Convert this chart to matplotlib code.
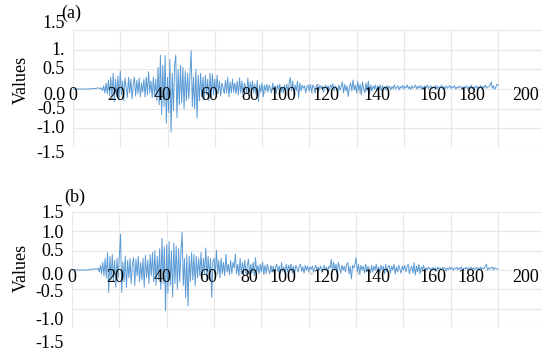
import numpy as np
import matplotlib
matplotlib.use('Agg')
import matplotlib.pyplot as plt

plt.rcParams['font.family'] = ['Liberation Serif', 'DejaVu Serif']

# one row = 10 s, step 0.5 s
wave_a = [
    0.0, 0.0, 0.0, 0.0, 0.0, 0.0, 0.0, 0.0, 0.0, 0.0, 0.0, 0.0, 0.0, 0.0, 0.01, 0.0, 0.01, 0.01, 0.02, 0.01,
    0.02, 0.03, 0.02, 0.01, 0.03, -0.04, 0.08, -0.1, 0.15, -0.12, 0.22, -0.18, 0.3, -0.25, 0.4, -0.32, 0.25, -0.2, 0.33, -0.28,
    0.46, -0.15, 0.2, -0.3, 0.28, 0.05, -0.22, 0.3, -0.1, 0.25, -0.25, 0.12, 0.3, -0.18, 0.22, -0.12, 0.28, -0.2, 0.15, -0.08,
    0.25, -0.2, 0.3, -0.15, 0.44, -0.1, 0.2, -0.22, 0.3, -0.18, 0.25, -0.3, 0.55, -0.4, 0.86, -0.65, 0.6, -0.45, 0.85, -0.87,
    0.3, -0.6, 0.75, -1.1, 0.4, -0.55, 0.6, 0.86, -0.73, 0.5, -0.4, 0.6, -0.35, 0.55, -0.5, 0.45, -0.3, 0.4, -0.25, 0.35,
    0.97, -0.45, 0.3, -0.5, 0.5, -0.74, 0.35, -0.3, 0.4, -0.2, 0.3, -0.28, 0.35, -0.15, 0.25, -0.3, 0.4, -0.2, 0.38, -0.15,
    0.25, -0.15, 0.35, -0.1, 0.2, -0.18, 0.15, 0.05, -0.12, 0.22, -0.1, 0.3, -0.2, 0.18, -0.1, 0.25, -0.08, 0.15, -0.12, 0.2,
    -0.15, 0.28, -0.1, 0.2, -0.2, 0.15, 0.05, -0.1, 0.28, -0.12, 0.18, -0.05, 0.2, -0.1, 0.12, -0.15, 0.22, -0.32, 0.1, -0.08,
    0.15, -0.2, 0.1, -0.05, 0.12, -0.08, 0.1, 0.02, -0.1, 0.15, -0.05, 0.08, -0.12, 0.1, 0.0, 0.12, -0.08, 0.05, -0.1, 0.1,
    -0.05, 0.12, -0.08, 0.15, 0.29, -0.05, 0.2, -0.13, 0.1, -0.05, 0.2, -0.23, 0.15, -0.05, 0.1, 0.02, 0.08, -0.1, 0.05, 0.1,
    -0.05, 0.12, -0.08, 0.1, 0.05, -0.1, 0.08, 0.12, -0.05, 0.1, 0.0, 0.08, -0.08, 0.05, 0.1, -0.02, 0.08, -0.05, 0.1, 0.04,
    0.13, -0.05, 0.08, 0.03, -0.08, 0.1, -0.03, 0.06, 0.18, -0.1, 0.12, -0.05, 0.08, -0.19, 0.05, 0.15, -0.05, 0.23, -0.02, 0.1,
    -0.1, 0.2, -0.05, 0.12, -0.15, 0.18, 0.0, -0.1, 0.15, -0.05, 0.2, -0.12, 0.1, -0.05, 0.08, 0.0, 0.1, -0.06, 0.08, 0.02,
    0.1, -0.04, 0.08, 0.0, 0.06, -0.03, 0.09, 0.02, 0.07, -0.02, 0.06, 0.01, 0.1, 0.0, 0.05, 0.08, -0.02, 0.06, 0.02, 0.09,
    0.0, 0.07, 0.03, 0.1, 0.01, 0.06, -0.01, 0.08, 0.02, 0.05, 0.1, 0.0, 0.07, 0.02, 0.09, 0.01, 0.06, 0.0, 0.08, 0.03,
    0.1, 0.01, 0.05, 0.08, 0.0, 0.06, 0.02, 0.09, 0.0, 0.07, 0.03, 0.05, 0.1, 0.01, 0.06, 0.0, 0.08, 0.02, 0.05, 0.09,
    0.01, 0.06, 0.03, 0.08, 0.0, 0.05, 0.02, 0.07, 0.04, 0.06, 0.0, 0.05, 0.03, 0.08, 0.01, 0.06, 0.02, 0.1, 0.0, 0.05,
    0.03, 0.08, 0.01, 0.06, 0.02, 0.09, 0.0, 0.07, 0.03, 0.1, 0.02, 0.06, 0.05, 0.1, 0.18, 0.02, 0.08, -0.01, 0.05, 0.12,
    0.1,
]

wave_b = [
    0.0, 0.0, 0.0, 0.0, 0.0, 0.0, 0.0, 0.0, 0.0, 0.0, 0.0, 0.0, 0.0, 0.0, 0.01, 0.01, 0.02, 0.02, 0.03, 0.02,
    0.03, 0.02, 0.05, -0.05, 0.12, -0.1, 0.2, -0.15, 0.3, -0.2, 0.45, -0.58, 0.35, -0.25, 0.4, -0.3, 0.25, -0.45, 0.3, -0.2,
    0.35, 0.93, -0.58, 0.2, -0.3, 0.36, -0.45, 0.25, -0.2, 0.3, -0.35, 0.15, 0.32, -0.4, 0.28, -0.15, 0.35, -0.3, 0.2, -0.25,
    0.3, -0.45, 0.38, -0.2, 0.25, -0.35, 0.4, -0.15, 0.45, -0.3, 0.5, -0.4, 0.35, -0.25, 0.55, -0.5, 0.82, -0.35, 0.6, -1.05,
    0.65, -0.6, 0.74, -0.4, 0.5, -0.7, 0.7, -0.35, 0.62, -0.5, 0.55, -0.3, 0.45, 0.98, -0.4, 0.3, -0.71, 0.4, -0.93, 0.35,
    -0.3, 0.45, -0.25, 0.4, -0.4, 0.35, -0.2, 0.3, -0.15, 0.45, -0.2, 0.3, -0.1, 0.57, -0.25, 0.35, -0.2, 0.3, -0.71, 0.2,
    0.3, -0.15, 0.51, -0.1, 0.25, -0.2, 0.3, -0.1, 0.2, -0.15, 0.41, -0.05, 0.15, -0.12, 0.25, -0.1, 0.2, 0.05, 0.41, -0.1,
    0.15, -0.15, 0.3, -0.1, 0.2, -0.05, 0.25, -0.12, 0.1, 0.28, -0.1, 0.15, -0.08, 0.2, -0.15, 0.32, -0.05, 0.12, -0.1, 0.15,
    -0.05, 0.2, -0.1, 0.12, -0.08, 0.15, 0.0, -0.1, 0.12, -0.05, 0.1, -0.12, 0.08, 0.15, -0.05, 0.1, -0.1, 0.19, -0.05, 0.08,
    -0.08, 0.15, -0.05, 0.12, 0.0, 0.15, -0.08, 0.1, -0.1, 0.12, 0.05, -0.05, 0.1, 0.15, -0.03, 0.08, -0.08, 0.12, 0.0, 0.1,
    -0.05, 0.08, 0.02, 0.1, -0.05, 0.06, 0.12, -0.02, 0.08, 0.0, 0.1, -0.06, 0.05, 0.12, 0.0, 0.08, -0.05, 0.1, 0.05, 0.28,
    -0.05, 0.2, 0.0, 0.15, -0.1, 0.2, 0.05, -0.08, 0.12, 0.0, 0.1, -0.05, 0.15, 0.19, -0.1, 0.1, -0.23, 0.12, 0.05, 0.15,
    0.32, -0.05, 0.15, -0.1, 0.12, 0.0, 0.1, -0.08, 0.15, -0.05, 0.1, 0.02, -0.08, 0.12, -0.05, 0.1, 0.0, 0.15, -0.05, 0.08,
    -0.08, 0.12, 0.0, 0.1, -0.1, 0.15, -0.05, 0.08, 0.12, -0.08, 0.1, 0.0, 0.15, -0.1, 0.08, -0.05, 0.12, 0.02, -0.08, 0.1,
    0.0, 0.12, -0.05, 0.08, 0.15, -0.1, 0.05, 0.1, -0.08, 0.19, -0.13, 0.1, -0.05, 0.15, -0.1, 0.08, 0.0, 0.12, -0.05, 0.06,
    0.0, 0.08, 0.02, 0.05, -0.02, 0.07, 0.01, 0.06, -0.03, 0.08, 0.02, 0.05, 0.0, 0.07, 0.03, 0.06, -0.02, 0.05, 0.01, 0.08,
    0.02, 0.06, -0.01, 0.05, 0.03, 0.07, 0.0, 0.06, 0.02, 0.08, -0.02, 0.05, 0.03, 0.07, 0.01, 0.06, 0.0, 0.08, 0.02, 0.05,
    0.0, 0.07, 0.03, 0.06, -0.01, 0.08, 0.02, 0.05, 0.03, 0.1, 0.15, 0.0, 0.06, 0.02, 0.05, 0.08, 0.0, 0.06, 0.04, 0.03,
    0.02,
]

x_labels = ['0', '20', '40', '60', '80', '100', '120', '140', '160', '180', '200']
y_values = [1.5, 1.0, 0.5, 0.0, -0.5, -1.0, -1.5]
y_labels_a = ['1.5', '1.', '0.5', '0.0', '-0.5', '-1.0', '-1.5']
y_labels_b = ['1.5', '1.0', '0.5', '0.0', '-0.5', '-1.0', '-1.5']
grid_marks = ['60', '80', '100', '120']

# layout only: where the original put its labels
x_label_pos = [0, 18.2, 38.1, 57.6, 75.0, 89.0, 107.2, 128.8, 152.5, 168.6, 191.5]
y_shift_a = [7, -1, 0, -6, -1, 0, -5]
y_shift_b = [-1, -2, -1, -6, -3, -12, -15]

LINE = '#5b9bd5'
GRID = '#e8e8e8'
FS = 13


def draw_panel(ax, wave, y_labels, y_shift, x_dy, tag, tag_xy, ylab_y):
    t = np.linspace(0, 180, len(wave))
    ax.plot(t, wave, color=LINE, lw=0.7, zorder=3)
    ax.set_xlim(0, 198.5)
    ax.set_ylim(-1.5, 1.5)
    ax.set_xticks(np.arange(0, 181, 20))
    ax.set_yticks(y_values)
    ax.grid(True, color=GRID, lw=0.9)
    ax.tick_params(length=0, labelleft=False, labelbottom=False)
    for s in ax.spines.values():
        s.set_visible(False)
    for lab, x in zip(x_labels, x_label_pos):
        ax.annotate(lab, xy=(x, 0), xytext=(0, x_dy), textcoords='offset pixels',
                    ha='center', va='center', fontsize=FS, annotation_clip=False, zorder=4)
    for lab, y, dy in zip(y_labels, y_values, y_shift):
        ax.annotate(lab, xy=(0, y), xycoords=('axes fraction', 'data'), xytext=(-8, dy),
                    textcoords='offset pixels', ha='right', va='center', fontsize=FS,
                    annotation_clip=False)
    for lab, x in zip(grid_marks, [60, 80, 100, 120]):
        ax.annotate(lab, xy=(x, 0), xytext=(1, -4), textcoords='offset pixels',
                    ha='left', va='center', fontsize=2.5, color='#999999', annotation_clip=False)
    fig.text(tag_xy[0] / 542, 1 - tag_xy[1] / 350, tag, ha='center', va='center', fontsize=FS)
    fig.text(21 / 542, 1 - ylab_y / 350, 'Values', rotation=90, ha='center', va='center', fontsize=FS)


fig = plt.figure(figsize=(5.42, 3.5), dpi=100)
ax_a = fig.add_axes([73 / 542, 202 / 350, 469 / 542, 118 / 350])
ax_b = fig.add_axes([72 / 542, 22 / 350, 470 / 542, 116 / 350])

draw_panel(ax_a, wave_a, y_labels_a, y_shift_a, -7, '(a)', (71, 13), 80)
draw_panel(ax_b, wave_b, y_labels_b, y_shift_b, -8, '(b)', (75, 197), 268)

fig.savefig('out.png', dpi=100)
